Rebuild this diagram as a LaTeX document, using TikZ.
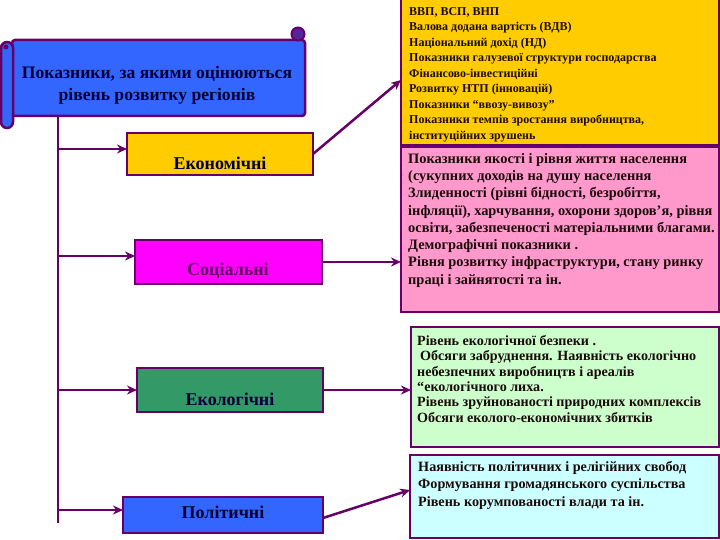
\documentclass[tikz,border=0pt]{standalone}
\usepackage{fontspec}
\setmainfont{Liberation Serif}
\usetikzlibrary{arrows.meta}
\definecolor{bord}{HTML}{660066}
\definecolor{orng}{HTML}{FFCC00}
\definecolor{mag}{HTML}{FF00FF}
\definecolor{grn}{HTML}{339966}
\definecolor{blu}{HTML}{3366FF}
\definecolor{pnk}{HTML}{FF99CC}
\definecolor{lgrn}{HTML}{CCFFCC}
\definecolor{lcyn}{HTML}{CCFFFF}
\definecolor{navy}{HTML}{000033}
\definecolor{dtxt}{HTML}{1A0A0A}
\begin{document}
\begin{tikzpicture}[x=1pt,y=-1pt,
  box/.style={draw=bord, line width=2.5pt, anchor=north west, inner sep=0pt, outer sep=0pt},
  lbl/.style={font=\bfseries\fontsize{18}{20}\selectfont, inner sep=0pt},
  rtxt/.style={anchor=north west, align=left, inner sep=0pt, text=dtxt},
  arr/.style={draw=bord, line width=2.5pt, -{Stealth[length=10pt,width=9pt]}},
  trunk/.style={draw=bord, line width=2.2pt}]
\useasboundingbox (0,0) rectangle (720,540);
\fill[white] (0,0) rectangle (720,540);

% title scroll
\draw[draw=bord, fill=blu, line width=2.5pt, rounded corners=3pt] (12,40) rectangle (305,116);
\draw[draw=bord, fill=bord!65!blu, line width=2pt] (298,34) circle (6.5);
\draw[draw=bord, fill=blu, line width=2.5pt, rounded corners=6pt] (1,42) rectangle (13,128);
\fill[bord] (6,47) circle (2.5);
\node[font=\bfseries\fontsize{17.6}{22}\selectfont, align=center, text=navy, inner sep=0pt] (ttl) at (157,85)
  {Показники, за якими оцінюються\\рівень розвитку регіонів};

% left boxes
\node[box, fill=orng, minimum width=186pt, minimum height=42pt] (eco) at (127,133) {};
\node[box, fill=mag, minimum width=187pt, minimum height=44pt] (soc) at (135,240) {};
\node[box, fill=grn, minimum width=186pt, minimum height=44pt] (ekl) at (137,368) {};
\node[box, fill=blu, minimum width=200pt, minimum height=36pt] (pol) at (123,497) {};

\node[lbl, text=navy] (ecoT) at (220,163) {Економічні};
\node[lbl, text=bord] (socT) at (228,271) {Соціальні};
\node[lbl, text=navy] (eklT) at (230,399) {Екологічні};
\node[lbl, text=navy] (polT) at (223,512) {Політичні};

% right boxes
\node[box, fill=orng, minimum width=318pt, minimum height=147pt] (ecoR) at (401,-2) {};
\node[box, fill=pnk, minimum width=318pt, minimum height=165pt] (socR) at (401,147) {};
\node[box, fill=lgrn, minimum width=308pt, minimum height=120pt] (eklR) at (411,327) {};
\node[box, fill=lcyn, minimum width=309pt, minimum height=83pt] (polR) at (410,455) {};

\node[rtxt, font=\bfseries\fontsize{12}{15.5}\selectfont] (ecoRT) at (409,7) {ВВП, ВСП, ВНП\\
Валова додана вартість (ВДВ)\\
Національний дохід (НД)\\
Показники галузевої структури господарства\\
Фінансово-інвестиційні\\
Розвитку НТП (інновацій)\\
Показники “ввозу-вивозу”\\
Показники темпів зростання виробництва,\\
інституційних зрушень};

\node[rtxt, font=\bfseries\fontsize{14.4}{17.3}\selectfont] (socRT) at (408,153) {Показники якості і рівня життя населення\\
(сукупних доходів на душу населення\\
Злиденності (рівні бідності, безробіття,\\
інфляції), харчування, охорони здоров’я, рівня\\
освіти, забезпеченості матеріальними благами.\\
Демографічні показники .\\
Рівня розвитку інфраструктури, стану ринку\\
праці і зайнятості та ін.};

\node[rtxt, font=\bfseries\fontsize{14.1}{15.4}\selectfont] (eklRT) at (417,335) {Рівень екологічної безпеки .\\
\hspace*{3pt}Обсяги забруднення. Наявність екологічно\\
небезпечних виробництв і ареалів\\
“екологічного лиха.\\
Рівень зруйнованості природних комплексів\\
Обсяги еколого-економічних збитків};

\node[rtxt, font=\bfseries\fontsize{14.2}{17.5}\selectfont] (polRT) at (418,461) {Наявність політичних і релігійних свобод\\
Формування громадянського суспільства\\
Рівень корумпованості влади та ін.};

% trunk and branches
\coordinate (vtop) at (58,116);
\coordinate (vbot) at (58,523);
\coordinate (b1) at (58,149);
\coordinate (b2) at (58,256);
\coordinate (b3) at (58,390);
\coordinate (b4) at (58,510);
\draw[trunk] (vtop) -- (vbot);
\draw[arr] (b1) -- (b1 -| eco.west);
\draw[arr] (b2) -- (b2 -| soc.west);
\draw[arr] (b3) -- (b3 -| ekl.west);
\draw[arr] (b4) -- (b4 -| pol.west);

% to right boxes
\coordinate (r1) at (401,80);
\coordinate (s4) at (323,518);
\coordinate (r4) at (410,490);
\draw[arr] (eco.east) -- (r1);
\draw[arr] (soc.east) -- (soc.east -| socR.west);
\draw[arr] (ekl.east) -- (ekl.east -| eklR.west);
\draw[arr] (s4) -- (r4);
\end{tikzpicture}
\end{document}
